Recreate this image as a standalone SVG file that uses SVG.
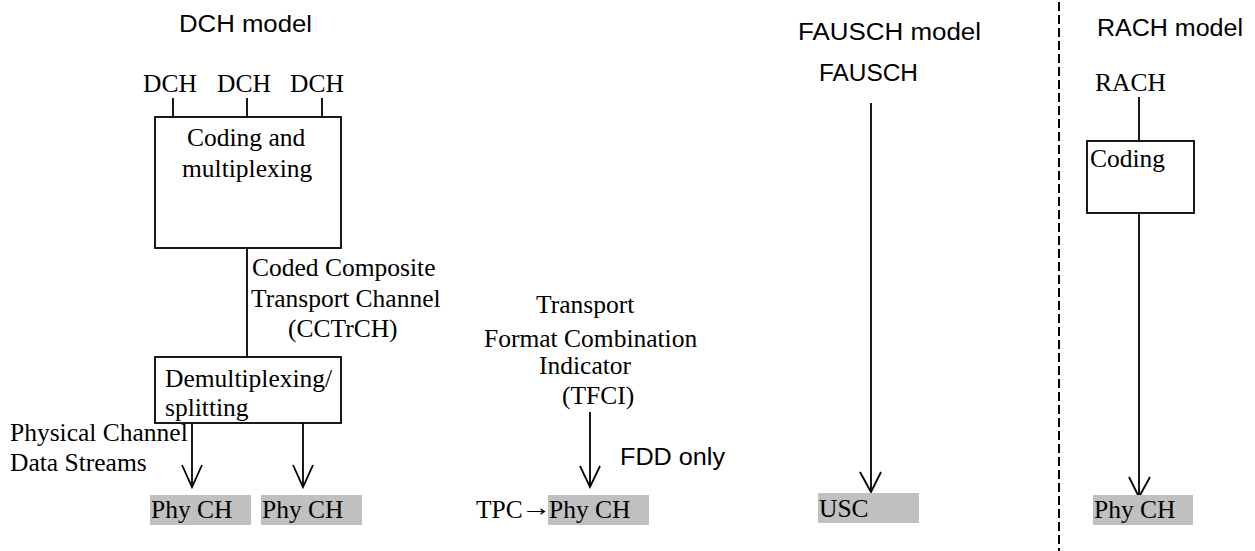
<svg xmlns="http://www.w3.org/2000/svg" width="1255" height="551" viewBox="0 0 1255 551">
<style>
.s{font-family:"Liberation Sans",Arial,sans-serif;fill:#000}
.t{font-family:"Liberation Serif","Times New Roman",serif;font-size:25.5px;fill:#000}
.box{fill:#fff;stroke:#000;stroke-width:1.8}
.ph{fill:#c0c0c0}
.ln{fill:none;stroke:#000;stroke-width:1.8}
.ah{fill:none;stroke:#000;stroke-width:1.8;stroke-linejoin:miter}
</style>
<rect width="1255" height="551" fill="#fff"/>
<g id="titles">
<text class="s" x="179" y="32" font-size="24.5" textLength="133" lengthAdjust="spacingAndGlyphs">DCH model</text>
<text class="s" x="798" y="40" font-size="23" textLength="183" lengthAdjust="spacingAndGlyphs">FAUSCH model</text>
<text class="s" x="1097" y="36" font-size="23.5" textLength="146" lengthAdjust="spacingAndGlyphs">RACH model</text>
</g>
<g id="connectors">
<line class="ln" x1="173" y1="98" x2="173" y2="117"/>
<line class="ln" x1="247" y1="98" x2="247" y2="117"/>
<line class="ln" x1="322" y1="98" x2="322" y2="117"/>
<line class="ln" x1="247" y1="248" x2="247" y2="357"/>
<line class="ln" x1="192" y1="423" x2="192" y2="487"/>
<polyline class="ah" points="182,465 192,487 202,465"/>
<line class="ln" x1="303" y1="423" x2="303" y2="487"/>
<polyline class="ah" points="293,465 303,487 313,465"/>
<line class="ln" x1="590" y1="412" x2="590" y2="487"/>
<polyline class="ah" points="580,466 590,487 600,466"/>
<line class="ln" x1="871" y1="103" x2="871" y2="492"/>
<polyline class="ah" points="860,472 871,492 881,472"/>
<line class="ln" x1="1139" y1="97" x2="1139" y2="141"/>
<line class="ln" x1="1139" y1="213" x2="1139" y2="497"/>
<polyline class="ah" points="1129,477 1139,497 1150,477"/>
<line x1="1059" y1="2" x2="1059" y2="551" stroke="#000" stroke-width="2" stroke-dasharray="9,4"/>
</g>
<g id="dch-inputs">
<text class="t" x="143" y="92">DCH</text>
<text class="t" x="217" y="92">DCH</text>
<text class="t" x="290" y="92">DCH</text>
</g>
<g id="coding-mux">
<rect class="box" x="155" y="117" width="186" height="131"/>
<text class="t" x="187" y="146">Coding and</text>
<text class="t" x="182" y="177">multiplexing</text>
</g>
<g id="cctrch-label">
<text class="t" x="252" y="276">Coded Composite</text>
<text class="t" x="251" y="307">Transport Channel</text>
<text class="t" x="288" y="337">(CCTrCH)</text>
</g>
<g id="demux">
<rect class="box" x="155" y="357" width="186" height="66"/>
<text class="t" x="165" y="387">Demultiplexing/</text>
<text class="t" x="165" y="416">splitting</text>
</g>
<g id="pcds-label">
<text class="t" x="10" y="441">Physical Channel</text>
<text class="t" x="10" y="471">Data Streams</text>
</g>
<g id="phych1">
<rect class="ph" x="150" y="495" width="101" height="30"/>
<text class="t" x="151" y="518">Phy CH</text>
</g>
<g id="phych2">
<rect class="ph" x="261" y="495" width="101" height="30"/>
<text class="t" x="262" y="518">Phy CH</text>
</g>
<g id="tfci-label">
<text class="t" x="536" y="313">Transport</text>
<text class="t" x="484" y="347">Format Combination</text>
<text class="t" x="539" y="374">Indicator</text>
<text class="t" x="562" y="404">(TFCI)</text>
</g>
<g id="fdd-label">
<text class="s" x="620" y="465" font-size="23" textLength="105" lengthAdjust="spacingAndGlyphs">FDD only</text>
</g>
<g id="phych3">
<rect class="ph" x="548" y="495" width="101" height="30"/>
<text class="t" x="476" y="518">TPC</text>
<text class="t" transform="translate(521,516) scale(1.2,1)">→</text>
<text class="t" x="549" y="518">Phy CH</text>
</g>
<g id="fausch">
<text class="s" x="819" y="81" font-size="23" textLength="99" lengthAdjust="spacingAndGlyphs">FAUSCH</text>
</g>
<g id="usc">
<rect class="ph" x="818" y="493" width="101" height="30"/>
<text class="t" x="819" y="517">USC</text>
</g>
<g id="rach">
<text class="t" x="1095" y="91">RACH</text>
</g>
<g id="rach-coding">
<rect class="box" x="1087" y="141" width="107" height="72"/>
<text class="t" x="1090" y="167">Coding</text>
</g>
<g id="phych4">
<rect class="ph" x="1093" y="495" width="100" height="30"/>
<text class="t" x="1094" y="518">Phy CH</text>
</g>
</svg>
